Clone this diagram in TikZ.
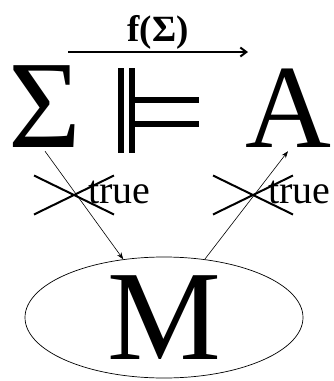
\documentclass[tikz,border=0pt]{standalone}
\usepackage{fontspec}
\setmainfont{Liberation Serif}
\usepackage{tikz}
\usetikzlibrary{arrows.meta,shapes.geometric,shapes.misc}
\definecolor{InkBlack}{HTML}{000000}
\newcommand{\forcesym}{\rule{5.7pt}{84.5pt}\hspace{5.7pt}\rule{6pt}{84.5pt}%
  \rule[25.7pt]{64pt}{6.3pt}\hspace{-64pt}\rule[49.7pt]{64pt}{6.5pt}}
\tikzset{
  bigglyph/.style={anchor=base, inner sep=4pt, text=InkBlack},
  smallword/.style={anchor=base west, inner sep=0pt, font=\fontsize{40}{40}\selectfont},
  crossmark/.style={cross out, draw=InkBlack, line width=2pt, inner sep=0pt,
    minimum width=78pt, minimum height=37pt},
  model/.style={ellipse, draw=InkBlack, line width=0.7pt, inner sep=0pt,
    minimum width=278pt, minimum height=121pt, font=\fontsize{128}{128}\selectfont},
  wire/.style={-{Stealth[length=7pt,width=5pt]}, line width=0.6pt},
  mapwire/.style={-{Straight Barb[length=6pt,width=9pt]}, line width=2pt}
}
\begin{document}
\begin{tikzpicture}[x=1pt, y=-1pt]
  \useasboundingbox (0,0) rectangle (333,381);
  % top line
  \node[bigglyph, font=\fontsize{125}{125}\selectfont] (sigma) at (45,147) {Σ};
  \node[anchor=base west, inner sep=0pt] (forces) at (117.7,152.7) {\forcesym};
  \node[bigglyph, font=\fontsize{119}{119}\selectfont] (A) at (288,147) {A};
  \coordinate (fstart) at (68,52);
  \coordinate (fend) at (248,52);
  \draw[mapwire] (fstart) -- node[above, inner sep=2pt, font=\bfseries\fontsize{37}{37}\selectfont] (fsigma) {f(Σ)} (fend);
  % the model
  \node[model] (M) at (164,317.5) {M};
  % crossed out truth values
  \node[crossmark] (noleft) at (74,195) {};
  \node[smallword] (trueleft) at (88,203) {true};
  \node[crossmark] (noright) at (253,195) {};
  \node[smallword] (trueright) at (268,203) {true};
  \draw[wire] (sigma.south) -- (M.125);
  \draw[wire] (M.55) -- (A.south);
\end{tikzpicture}
\end{document}
